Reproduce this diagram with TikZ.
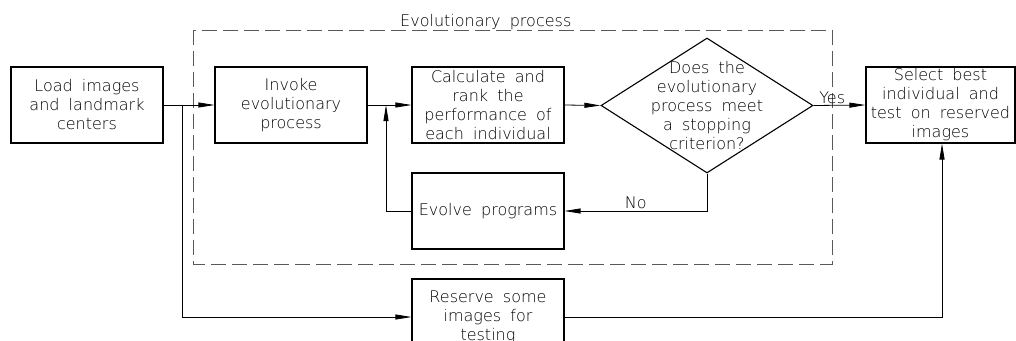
\documentclass[tikz,border=0pt]{standalone}
\usepackage{fontspec}
\setmainfont{DejaVu Sans}[UprightFont=* ExtraLight, WordSpace=1.8]
\usetikzlibrary{arrows.meta,shapes.geometric}
\tikzset{
  every node/.style={font=\fontsize{16}{19}\selectfont},
  box/.style={draw, line width=1.1pt, minimum width=152pt, minimum height=76pt,
              inner sep=0pt, align=center},
  decision/.style={draw, diamond, line width=1.1pt, minimum width=212pt,
                   minimum height=135pt, inner sep=0pt},
  flow/.style={line width=0.8pt, -{Triangle[length=16pt,width=5pt]}},
  link/.style={line width=0.8pt},
  group/.style={draw=black!65, line width=0.8pt, dash pattern=on 15pt off 6pt},
  tag/.style={inner sep=1.5pt}
}
\begin{document}
\begin{tikzpicture}[x=1pt, y=-1pt]
  \useasboundingbox (0,0) rectangle (1016,340);
  \clip (0,0) rectangle (1016,340);

  % dashed frame around the evolutionary loop
  \draw[group] (193,30) rectangle (832,264);
  \node[anchor=base west, inner sep=0pt] (grouplabel) at (400,26) {Evolutionary process};

  % process boxes
  \node[box] (load)    at (87,105)  {Load images\\and landmark\\centers};
  \node[box] (invoke)  at (291,105) {Invoke\\evolutionary\\process};
  \node[box] (calc)    at (488,105) {Calculate and\\rank the\\performance of\\each individual};
  \node[box] (evolve)  at (488,211) {Evolve programs};
  \node[box] (reserve) at (488,317) {Reserve some\\images for\\testing};
  \node[box, minimum width=149pt] (select) at (940.5,105) {Select best\\individual and\\test on reserved\\images};

  % stopping test
  \node[decision] (dia) at (707,105.5) {};
  \node[align=center, inner sep=0pt] (diatext) at (707,106)
       {Does the\\evolutionary\\process meet\\a stopping\\criterion?};

  % junctions on the main line
  \coordinate (split) at (182,105);
  \coordinate (merge) at (386,105);

  % connectors
  \draw[flow] (load.east) -- (invoke.west);
  \draw[flow] (split) |- (reserve.west);
  \draw[flow] (invoke.east) -- (calc.west);
  \draw[flow] (evolve.west) -| (merge);
  \draw[flow] (calc.east) -- (dia.west);
  \draw[flow] (dia.east) -- node[pos=0.36, above, tag] {Yes} (select.west);
  \draw[flow] (dia.south) |- node[pos=0.75, above, tag] {No} (evolve.east);
  \draw[flow] (reserve.east) -| ([xshift=1.5pt]select.south);
\end{tikzpicture}
\end{document}
